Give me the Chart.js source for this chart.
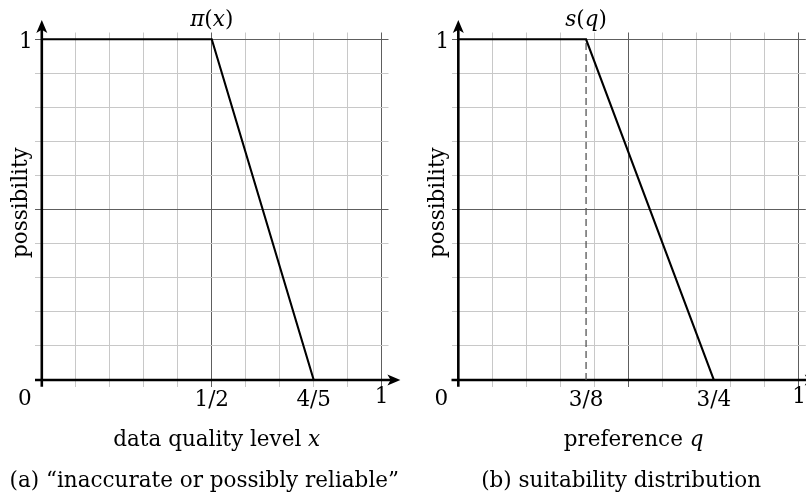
<!DOCTYPE html>
<html><head><meta charset="utf-8">
<script src="https://cdn.jsdelivr.net/npm/chart.js@4"></script>
<style>
html,body{margin:0;padding:0;background:#fff;overflow:hidden}
#wrap{position:relative;width:806px;height:495px;background:#fff}
canvas{position:absolute;left:0;top:0}
</style></head><body>
<div id="wrap"><canvas id="a" width="806" height="495"></canvas><canvas id="b" width="806" height="495"></canvas></div>
<script>
// ---- data ----
const xA = [0, 0.5, 0.8];
const yA = [1, 1, 0];
const xB = [0, 0.375, 0.75];
const yB = [1, 1, 0];
const dashX = [0.375, 0.375];
const dashY = [0, 1];
const gridTicks = [0, 0.1, 0.2, 0.3, 0.4, 0.5, 0.6, 0.7, 0.8, 0.9, 1];
const majorTicks = [0.5, 1];
const xTickValsA = [0.5, 0.8, 1];
const xTickLabelsA = ['1/2', '4/5', '1'];
const xTickValsB = [0.375, 0.75, 1];
const xTickLabelsB = ['3/8', '3/4', '1'];
const yTickVals = [1];
const yTickLabels = ['1'];
const originLabel = '0';
const titleA = '$π$($x$)';
const titleB = '$s$($q$)';
const xLabelA = 'data quality level $x$';
const xLabelB = 'preference $q$';
const yLabel = 'possibility';
const captionA = '(a) “inaccurate or possibly reliable”';
const captionB = '(b) suitability distribution';

const FONT = '"DejaVu Serif"';
const FS = 21.5;

function rich(ctx, str, x, y, align) {
  const parts = str.split('$').map((t, k) => ({t, i: k % 2 === 1})).filter(p => p.t.length);
  const fonts = parts.map(p => (p.i ? 'italic ' : '') + FS + 'px ' + FONT);
  const w = parts.map((p, k) => { ctx.font = fonts[k]; return ctx.measureText(p.t).width; });
  const tot = w.reduce((a, b) => a + b, 0);
  let cx = align === 'center' ? x - tot / 2 : (align === 'right' ? x - tot : x);
  ctx.textAlign = 'left'; ctx.textBaseline = 'alphabetic'; ctx.fillStyle = '#000';
  parts.forEach((p, k) => { ctx.font = fonts[k]; ctx.fillText(p.t, cx, y); cx += w[k]; });
}

function arrow(ctx, tx, ty, dx, dy) {
  const L = 13, H = 5.5;
  const px = -dy, py = dx;
  ctx.beginPath();
  ctx.moveTo(tx, ty);
  ctx.lineTo(tx - dx * L + px * H, ty - dy * L + py * H);
  ctx.lineTo(tx - dx * L * 0.75, ty - dy * L * 0.75);
  ctx.lineTo(tx - dx * L - px * H, ty - dy * L - py * H);
  ctx.closePath();
  ctx.fillStyle = '#000';
  ctx.fill();
}

function makePanel(id, padL, padR, xs, ys, dash, cfg) {
  const datasets = [{
    data: xs.map((x, k) => ({x, y: ys[k]})),
    showLine: true, borderColor: '#000', borderWidth: 2.1, pointRadius: 0, tension: 0, order: 0
  }];
  if (dash) datasets.push({
    data: dash[0].map((x, k) => ({x, y: dash[1][k]})),
    showLine: true, borderColor: '#555', borderWidth: 1.3, borderDash: [7, 4], pointRadius: 0, order: 1
  });
  const gridColor = c => {
    const v = c.tick.value;
    if (Math.abs(v) < 1e-9) return 'rgba(0,0,0,0)';
    if (majorTicks.some(m => Math.abs(m - v) < 1e-9)) return '#5e5e5e';
    return '#c8c8c8';
  };
  const axisPlugin = {
    id: 'axes' + id,
    beforeDatasetsDraw(chart) {
      const ctx = chart.ctx, xs_ = chart.scales.x, ys_ = chart.scales.y;
      const x0 = xs_.getPixelForValue(0), y0 = ys_.getPixelForValue(0);
      const xl = xs_.getPixelForValue(-0.02), xt = xs_.getPixelForValue(1.055);
      const yb = ys_.getPixelForValue(-0.02), yt = ys_.getPixelForValue(1.057);
      ctx.save();
      ctx.strokeStyle = '#000'; ctx.lineWidth = 2.6;
      ctx.beginPath(); ctx.moveTo(xl, y0); ctx.lineTo(xt - 8, y0); ctx.stroke();
      ctx.beginPath(); ctx.moveTo(x0, yb); ctx.lineTo(x0, yt + 8); ctx.stroke();
      arrow(ctx, xt, y0, 1, 0);
      arrow(ctx, x0, yt, 0, -1);
      ctx.restore();
    },
    afterDraw(chart) {
      const ctx = chart.ctx, sx = chart.scales.x, sy = chart.scales.y;
      const x0 = sx.getPixelForValue(0), y0 = sy.getPixelForValue(0);
      const xm = sx.getPixelForValue(0.5), ym = sy.getPixelForValue(0.5);
      ctx.save();
      rich(ctx, cfg.title, sx.getPixelForValue(cfg.titleAt), sy.getPixelForValue(1) - 13, 'center');
      cfg.xTickVals.forEach((v, k) => {
        const off = (v === 1) ? -3 : 0;
        rich(ctx, cfg.xTickLabels[k], sx.getPixelForValue(v), y0 + 26 + off, 'center');
      });
      yTickVals.forEach((v, k) => rich(ctx, yTickLabels[k], x0 - 16, sy.getPixelForValue(v) + 8.5, 'center'));
      rich(ctx, originLabel, x0 - 17, y0 + 25, 'center');
      rich(ctx, cfg.xLabel, xm + 5, y0 + 66, 'center');
      rich(ctx, cfg.caption, xm - 7.5, 486.5, 'center');
      ctx.save();
      ctx.translate(x0 - 14.5, ym - 7);
      ctx.rotate(-Math.PI / 2);
      rich(ctx, yLabel, 0, 0, 'center');
      ctx.restore();
      ctx.restore();
    }
  };
  const scaleOpts = () => ({
    type: 'linear', min: -0.02, max: 1.02,
    afterBuildTicks: s => { s.ticks = gridTicks.map(v => ({value: v})); },
    ticks: {display: false},
    grid: {drawTicks: false, color: gridColor, lineWidth: 1},
    border: {display: false}
  });
  return new Chart(document.getElementById(id), {
    type: 'scatter',
    data: {datasets},
    options: {
      responsive: false, animation: false, events: [],
      layout: {padding: {left: padL, right: padR, top: 32.5, bottom: 108.2}},
      plugins: {legend: {display: false}, tooltip: {enabled: false}, title: {display: false}},
      scales: {x: scaleOpts(), y: scaleOpts()}
    },
    plugins: [axisPlugin]
  });
}

makePanel('a', 35, 417.5, xA, yA, null,
  {title: titleA, titleAt: 0.5, xTickVals: xTickValsA, xTickLabels: xTickLabelsA, xLabel: xLabelA, caption: captionA});
makePanel('b', 451.5, 0.2, xB, yB, [dashX, dashY],
  {title: titleB, titleAt: 0.375, xTickVals: xTickValsB, xTickLabels: xTickLabelsB, xLabel: xLabelB, caption: captionB});
</script>
</body></html>
